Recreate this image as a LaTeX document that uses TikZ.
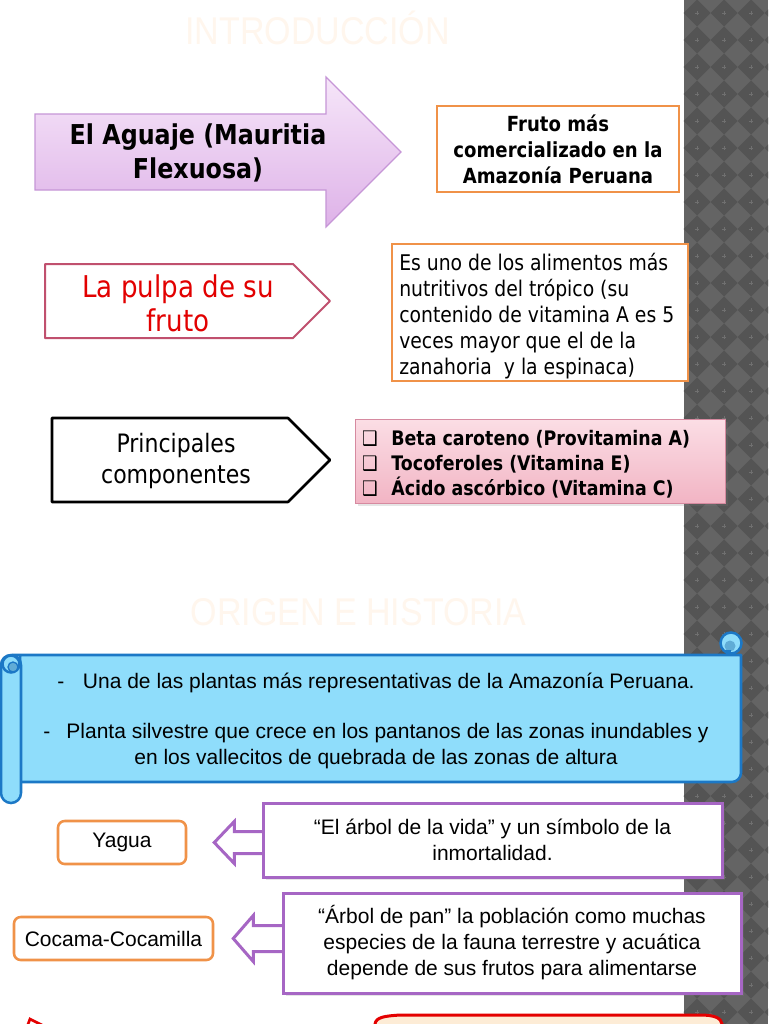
\documentclass[tikz,border=0pt]{standalone}
\usepackage{fontspec}
\setmainfont{DejaVu Sans}
\newfontfamily\tah{DejaVu Sans}[FakeStretch=0.87]
\newfontfamily\cnd{Liberation Sans}
\newfontfamily\ttl{Liberation Sans}[FakeStretch=0.88]
\usetikzlibrary{shadows}
\definecolor{orangeb}{RGB}{240,146,72}
\definecolor{purpb}{RGB}{166,102,196}
\definecolor{arrowb}{RGB}{198,150,215}
\definecolor{arrowtop}{RGB}{246,230,249}
\definecolor{arrowbot}{RGB}{222,178,232}
\definecolor{pulpab}{RGB}{192,80,110}
\definecolor{pulpat}{RGB}{226,0,0}
\definecolor{pinkt}{RGB}{251,222,229}
\definecolor{pinkbot}{RGB}{242,180,196}
\definecolor{pinkb}{RGB}{214,138,160}
\definecolor{scrollf}{RGB}{143,221,251}
\definecolor{scrollb}{RGB}{28,120,198}
\definecolor{scrollc}{RGB}{96,172,214}
\definecolor{titlec}{RGB}{255,246,237}
\definecolor{stripbg}{RGB}{100,100,100}
\definecolor{stripdk}{RGB}{84,84,84}
\definecolor{stripplus}{RGB}{112,112,112}
\definecolor{peach}{RGB}{253,236,214}
\definecolor{redb}{RGB}{228,0,0}
\begin{document}
\begin{tikzpicture}[x=0.75pt,y=-0.75pt,
  titlest/.style={font=\ttl\fontsize{29}{34}\selectfont, text=titlec, inner sep=0pt},
  obox/.style={draw=orangeb, line width=1.5pt, fill=white, inner sep=0pt},
  ybox/.style={draw=orangeb, line width=1.9pt, fill=white, rounded corners=5pt, inner sep=0pt,
     font=\cnd\fontsize{15.75}{19.5}\selectfont},
  pbox/.style={draw=purpb, line width=2.25pt, fill=white, inner sep=0pt, align=center,
     font=\cnd\fontsize{15.75}{19.5}\selectfont,
     drop shadow={opacity=.2, shadow xshift=2pt, shadow yshift=-2pt}},
  pinkst/.style={top color=pinkt, bottom color=pinkbot, draw=pinkb, line width=.75pt, inner sep=0pt,
     drop shadow={opacity=.2, shadow xshift=2pt, shadow yshift=-2pt}},
  hollowarr/.style={draw=purpb, line width=2.25pt, fill=white, line join=miter},
  scrollst/.style={fill=scrollf, draw=scrollb, line width=1.9pt},
]
\useasboundingbox (0,0) rectangle (768,1024);
\clip (0,0) rectangle (768,1024);
\fill[white] (0,0) rectangle (768,1024);
% right patterned strip
\fill[stripbg] (684,0) rectangle (768,1024);
\foreach \i in {0,...,3}{\foreach \j in {0,...,38}{
  \fill[stripdk] ({697+27*\i},{13+27*\j}) +(-13.5,0) -- +(0,-13.5) -- +(13.5,0) -- +(0,13.5) -- cycle;
  \draw[stripplus, line width=.3pt] ({697+27*\i},{13+27*\j}) +(-2,0) -- +(2,0) +(0,-2) -- +(0,2);
}}
% titles
\node[titlest, anchor=base] (t1) at (317.5,45) {INTRODUCCIÓN};
\node[titlest, anchor=base] (t2) at (358.5,625) {ORIGEN E HISTORIA};
% big arrow
\shadedraw[top color=arrowtop, bottom color=arrowbot, draw=arrowb, line width=.9pt]
  (35,114) -- (326,114) -- (326,77) -- (401,152) -- (326,227) -- (326,190) -- (35,190) -- cycle;
\node[font=\tah\bfseries\fontsize{20.5}{26}\selectfont, align=center] (aguaje) at (198,153) {El Aguaje (Mauritia\\Flexuosa)};
% fruto box
\node[obox, minimum width=181.5pt, minimum height=64.5pt, align=center,
  font=\tah\bfseries\fontsize{15.6}{19.5}\selectfont] (fruto) at (558,149) {Fruto más\\comercializado en la\\Amazonía Peruana};
% pulpa pentagon
\filldraw[fill=white, draw=pulpab, line width=1.5pt, line join=round]
  (45,264) -- (293,264) -- (330,301) -- (293,338) -- (45,338) -- cycle;
\node[font=\tah\fontsize{22.5}{25.5}\selectfont, text=pulpat, align=center] (pulpa) at (178,303) {La pulpa de su\\fruto};
% nutritivos box
\node[obox, minimum width=222pt, minimum height=102.75pt] (nutribox) at (540,312.5) {};
\node[anchor=west, align=left, inner sep=0pt, font=\tah\fontsize{16.2}{19.5}\selectfont] (nutri) at ([xshift=6pt,yshift=-3pt]nutribox.west)
  {Es uno de los alimentos más\\nutritivos del trópico (su\\contenido de vitamina A es 5\\veces mayor que el de la\\zanahoria \ y la espinaca)};
% principales pentagon
\filldraw[fill=white, draw=black, line width=1.9pt, line join=round]
  (52,418) -- (288,418) -- (330,460) -- (288,502) -- (52,502) -- cycle;
\node[font=\tah\fontsize{19}{23}\selectfont, align=center] (princ) at (176,461) {Principales\\componentes};
% components box
\node[pinkst, minimum width=277.5pt, minimum height=63pt] (compbox) at (540,461) {};
\node[anchor=west, align=left, inner sep=0pt, font=\tah\bfseries\fontsize{15}{18.75}\selectfont] (comp) at ([xshift=5.5pt,yshift=-2.2pt]compbox.west)
  {\makebox[22pt][l]{❑}Beta caroteno (Provitamina A)\\\makebox[22pt][l]{❑}Tocoferoles (Vitamina E)\\\makebox[22pt][l]{❑}Ácido ascórbico (Vitamina C)};
% scroll
\filldraw[scrollst, line join=round] (12,655) -- (741,655) [rounded corners=7pt] -- (741,782) [sharp corners] -- (20,782) -- (20,655) -- cycle;
\filldraw[scrollst] (731,643) circle[radius=10.5];
\fill[scrollc] (730,646) circle[radius=5.5];
\draw[scrollb, line width=1.2pt] (724,651) -- (731,651);
\filldraw[scrollst, rounded corners=7.5pt] (1,655) rectangle (21,803);
\filldraw[scrollst] (11,664) circle[radius=8.5];
\filldraw[fill=scrollc, draw=scrollb, line width=1pt] (13,667) circle[radius=5];
\node[font=\cnd\fontsize{15.75}{19.5}\selectfont, align=center, inner sep=0pt] (scrolltxt) at (376,721)
  {-\hspace{14pt}Una de las plantas más representativas de la Amazonía Peruana.\\[18pt]
   -\hspace{12pt}Planta silvestre que crece en los pantanos de las zonas inundables y\\
   en los vallecitos de quebrada de las zonas de altura};
% Yagua row
\node[ybox, minimum width=96pt, minimum height=32.25pt] (yagua) at (122,842.5) {\raisebox{-1.5pt}{Yagua}};
\path (yagua.east) ++(27,0) coordinate (a1);
\draw[hollowarr] (a1) -- ++(20,-21) -- ++(0,10) -- ++(32,0) -- ++(0,22) -- ++(-32,0) -- ++(0,10) -- cycle;
\node[pbox, minimum width=344.25pt, minimum height=55.5pt] (arb1) at (492.5,840)
  {“El árbol de la vida” y un símbolo de la\\inmortalidad.};
% Cocama row
\node[ybox, minimum width=149.25pt, minimum height=32.25pt] (cocama) at (113.5,938.5) {Cocama-Cocamilla};
\path (cocama.east) ++(19,0) coordinate (a2);
\draw[hollowarr] (a2) -- ++(20,-23) -- ++(0,10) -- ++(33,0) -- ++(0,26) -- ++(-33,0) -- ++(0,10) -- cycle;
\node[pbox, minimum width=343.5pt, minimum height=75pt] (arb2) at (512,943)
  {“Árbol de pan” la población como muchas\\especies de la fauna terrestre y acuática\\depende de sus frutos para alimentarse};
% bottom shapes (cut off)
\filldraw[fill=peach, draw=redb, line width=2.25pt]
  (375,1032) -- (375,1024) .. controls (376,1017) and (385,1016) .. (400,1015) -- (700,1015)
  .. controls (715,1015) and (721,1018) .. (722,1024) -- (722,1032) -- cycle;
\draw[redb, line width=2pt] (27,1027) -- (30,1019) -- (46,1027);
\end{tikzpicture}
\end{document}
